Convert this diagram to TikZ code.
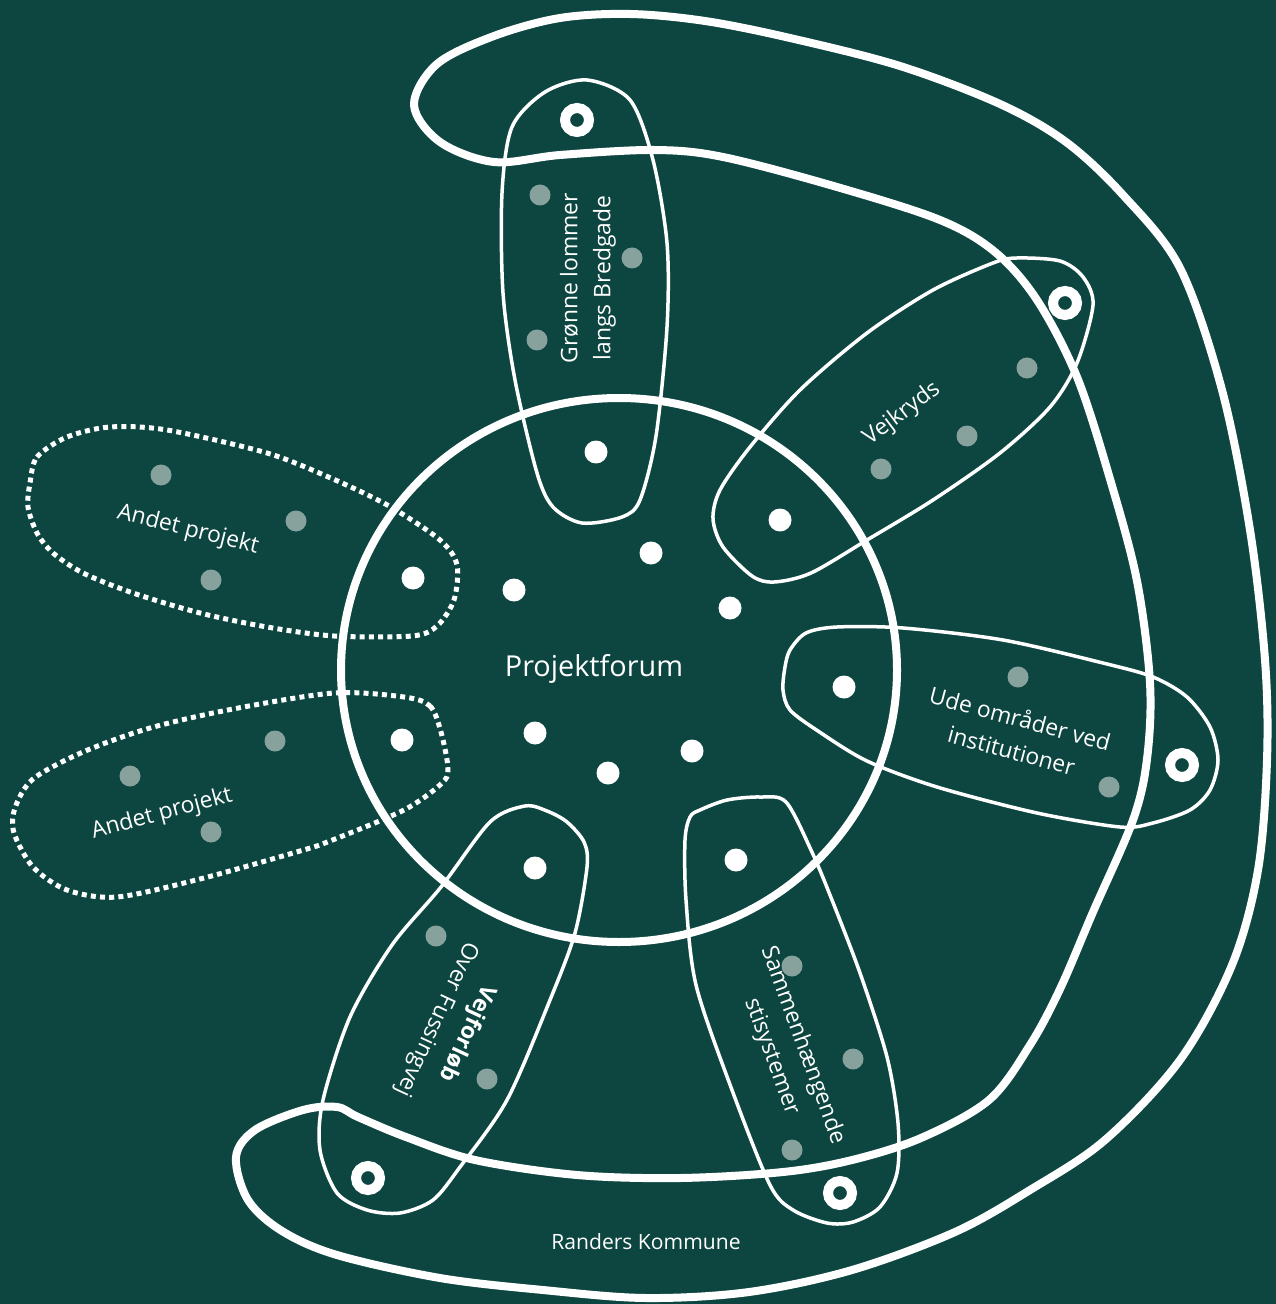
\documentclass[tikz,border=0pt]{standalone}
\usepackage{fontspec}
\setmainfont{Open Sans}
\usepackage{tikz}
\definecolor{forestbg}{RGB}{13,70,64}
\definecolor{dimdot}{RGB}{135,162,157}
\tikzset{
    loopline/.style={draw=white, line width=0.8mm, line join=round},
    petal/.style={draw=white, line width=0.35mm},
    otherpetal/.style={draw=white, line width=0.5mm, dash pattern=on 0.5mm off 0.42mm},
    hubdot/.style={fill=white},
    greydot/.style={fill=dimdot},
    ringdot/.style={draw=white, line width=1mm},
    lbl/.style={text=white, font=\fontsize{6.5}{9.4}\selectfont, align=center, inner sep=0pt},
}

\begin{document}
\begin{tikzpicture}[x=0.1mm, y=-0.1mm]
    \fill[forestbg] (0,0) rectangle (1276,1304);
    \useasboundingbox (0,0) rectangle (1276,1304);

    % Randers Kommune
    \draw[loopline] plot[smooth cycle, tension=0.55] coordinates {
        (414,105) (437,64) (494,36) (560,18) (630,14) (705,21) (790,38) (900,66)
        (1000,104) (1066,142) (1123,195) (1180,268) (1222,390) (1250,530) (1265,660)
        (1267,760) (1258,870) (1232,965) (1180,1060) (1105,1140) (1030,1190) (955,1232)
        (852,1270) (749,1292) (646,1298) (543,1290) (440,1278) (337,1255) (282,1231)
        (248,1200) (236,1157) (255,1130) (303,1110) (337,1107) (358,1117) (406,1137)
        (475,1160) (577,1175) (680,1178) (783,1172) (852,1160) (921,1138) (989,1100)
        (1030,1045) (1060,989) (1093,912) (1133,820) (1147,759) (1150,683) (1137,581)
        (1110,479) (1077,377) (1037,300) (995,252) (940,220) (837,187) (723,157)
        (654,150) (560,155) (494,162) (440,142)};

    % Projektforum
    \draw[loopline] (619,670) circle [x radius=27.8mm, y radius=27.2mm];

    % projekter
    \draw[petal] plot[smooth cycle] coordinates {
        (587,80) (630,100) (653,160) (667,243) (667,327) (656,436) (640,500)
        (622,517) (582,523) (553,507) (537,473) (515,380) (503,293) (502,193)
        (512,127) (545,92)};
    \draw[petal] plot[smooth cycle] coordinates {
        (1093,305) (1083,277) (1060,261) (1017,258) (993,263) (933,290) (867,333)
        (800,390) (750,447) (720,490) (713,519) (723,547) (752,576) (774,582)
        (811,573) (867,540) (933,500) (1000,453) (1050,407) (1077,363)};
    \draw[petal] plot[smooth cycle] coordinates {
        (790,650) (806,633) (837,627) (903,628) (1003,640) (1103,663) (1153,677)
        (1187,697) (1210,727) (1218,760) (1210,790) (1190,810) (1153,823) (1120,827)
        (1037,813) (937,787) (867,761) (818,731) (790,710) (783,690) (785,667)};
    \draw[petal] plot[smooth cycle] coordinates {
        (700,810) (727,800) (760,797) (786,802) (811,850) (830,895) (860,973)
        (887,1057) (898,1123) (897,1173) (880,1207) (853,1222) (827,1223) (793,1210)
        (770,1185) (732,1090) (696,985) (686,900) (685,840) (690,817)};
    \draw[petal] plot[smooth cycle] coordinates {
        (525,806) (547,811) (567,822) (584,842) (587,867) (575,933) (550,1000)
        (507,1100) (460,1167) (433,1200) (400,1213) (367,1210) (337,1193) (320,1150)
        (323,1100) (350,1017) (392,945) (441,887) (490,822)};

    % andre projekter
    \draw[otherpetal] plot[smooth cycle] coordinates {
        (30,483) (37,457) (67,437) (110,427) (167,430) (267,453) (333,479) (389,506)
        (440,540) (457,565) (454,600) (437,626) (412,636) (334,636) (267,627)
        (200,613) (133,593) (83,573) (53,553) (37,533) (28,507)};
    \draw[otherpetal] plot[smooth cycle] coordinates {
        (404,697) (430,706) (441,732) (448,769) (441,784) (404,810) (330,841)
        (300,851) (200,879) (117,897) (67,890) (33,867) (14,833) (15,808) (33,779)
        (83,752) (150,728) (233,709) (334,693)};

    % prikker
    \foreach \px/\py in {514/590, 651/553, 730/608, 535/733, 608/773, 692/751,
                         413/578, 402/740, 596/452, 780/520, 844/687, 736/860, 535/868}
        \fill[hubdot] (\px,\py) circle [radius=1.15mm];
    \foreach \px/\py in {540/195, 632/258, 537/340, 1027/368, 967/436, 881/469,
                         1018/677, 1109/787, 792/966, 853/1059, 792/1150, 436/936,
                         487/1079, 161/475, 296/521, 211/580, 275/741, 130/776, 211/832}
        \fill[greydot] (\px,\py) circle [radius=1.05mm];
    \foreach \px/\py in {577/120, 1065/303, 1182/765, 840/1193, 368/1178}
        \draw[ringdot] (\px,\py) circle [radius=1.2mm];

    % tekster
    \node[lbl, font=\fontsize{8.2}{10}\selectfont] (forum) at (594,669) {Projektforum};
    \node[lbl, rotate=90] (groenne) at (588,278) {Grønne lommer\\langs Bredgade};
    \node[lbl, rotate=37] (vejkryds) at (902,414) {Vejkryds};
    \node[lbl, rotate=-15] (ude) at (1016,734) {Ude områder ved\\institutioner};
    \node[lbl, rotate=-70] (sti) at (787,1051) {Sammenhængende\\stisystemer};
    \node[lbl, rotate=-115] (vejforloeb) at (452,1026) {\textbf{Vejforløb}\\Over Fussingvej};
    \node[lbl, rotate=-14] (andet1) at (188,530) {Andet projekt};
    \node[lbl, rotate=15] (andet2) at (162,814) {Andet projekt};
    \node[lbl, font=\fontsize{6}{7}\selectfont] (kommune) at (646,1242) {Randers Kommune};
\end{tikzpicture}
\end{document}
